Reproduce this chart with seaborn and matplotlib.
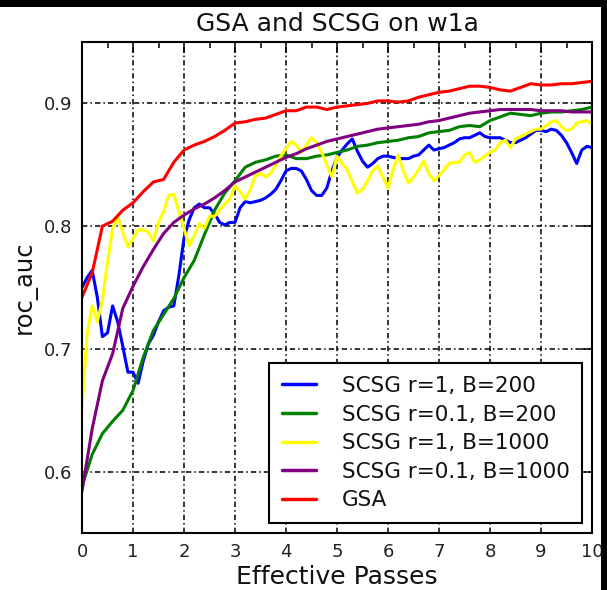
import numpy as np
import pandas as pd
import matplotlib
matplotlib.use("Agg")
import matplotlib.pyplot as plt
import seaborn as sns
from matplotlib.patches import Rectangle
from matplotlib.ticker import MultipleLocator

# effective passes sampled every 0.1 (noisy runs) and every 0.2 (smooth runs)
passes_fine = np.round(np.arange(0, 10.05, 0.1), 1)
passes_coarse = np.round(np.arange(0, 10.05, 0.2), 1)

auc_scsg_r1_b200 = [
    0.750, 0.758, 0.764, 0.742, 0.710, 0.713, 0.735, 0.722, 0.702, 0.681,
    0.681, 0.672, 0.690, 0.704, 0.711, 0.722, 0.731, 0.734, 0.735, 0.760,
    0.790, 0.805, 0.815, 0.818, 0.815, 0.815, 0.810, 0.803, 0.801, 0.803,
    0.803, 0.815, 0.820, 0.819, 0.820, 0.821, 0.823, 0.826, 0.830, 0.837,
    0.845, 0.847, 0.847, 0.845, 0.838, 0.829, 0.825, 0.825, 0.831, 0.845,
    0.856, 0.862, 0.867, 0.871, 0.861, 0.853, 0.848, 0.851, 0.855, 0.857,
    0.857, 0.856, 0.855, 0.855, 0.855, 0.857, 0.858, 0.862, 0.866, 0.862,
    0.863, 0.864, 0.866, 0.868, 0.871, 0.872, 0.872, 0.874, 0.876, 0.873,
    0.872, 0.872, 0.872, 0.870, 0.868, 0.868, 0.870, 0.872, 0.875, 0.878,
    0.878, 0.877, 0.879, 0.878, 0.874, 0.868, 0.860, 0.851, 0.862, 0.865,
    0.864,
]

auc_scsg_r1_b1000 = [
    0.652, 0.712, 0.735, 0.722, 0.740, 0.770, 0.798, 0.808, 0.795, 0.783,
    0.790, 0.797, 0.797, 0.795, 0.788, 0.803, 0.812, 0.825, 0.826, 0.812,
    0.798, 0.784, 0.792, 0.802, 0.798, 0.808, 0.808, 0.813, 0.818, 0.822,
    0.833, 0.828, 0.822, 0.830, 0.841, 0.843, 0.840, 0.843, 0.850, 0.857,
    0.863, 0.869, 0.866, 0.860, 0.866, 0.872, 0.868, 0.860, 0.850, 0.840,
    0.857, 0.851, 0.846, 0.836, 0.827, 0.830, 0.837, 0.845, 0.849, 0.840,
    0.831, 0.846, 0.858, 0.845, 0.835, 0.840, 0.846, 0.853, 0.843, 0.837,
    0.841, 0.846, 0.851, 0.852, 0.852, 0.858, 0.860, 0.852, 0.854, 0.857,
    0.860, 0.862, 0.868, 0.870, 0.864, 0.871, 0.873, 0.875, 0.877, 0.879,
    0.879, 0.882, 0.885, 0.886, 0.881, 0.878, 0.879, 0.884, 0.885, 0.886,
    0.883,
]

auc_scsg_r01_b200 = [
    0.588, 0.614, 0.631, 0.641, 0.650, 0.666, 0.693, 0.715, 0.728, 0.741,
    0.758, 0.772, 0.793, 0.813, 0.827, 0.837, 0.848, 0.852, 0.854, 0.857,
    0.858, 0.855, 0.855, 0.857, 0.858, 0.860, 0.862, 0.865, 0.866, 0.868,
    0.869, 0.870, 0.872, 0.873, 0.876, 0.877, 0.878, 0.881, 0.882, 0.881,
    0.886, 0.889, 0.892, 0.891, 0.890, 0.892, 0.893, 0.893, 0.894, 0.895,
    0.897,
]

auc_scsg_r01_b1000 = [
    0.584, 0.635, 0.674, 0.696, 0.733, 0.751, 0.767, 0.781, 0.794, 0.803,
    0.809, 0.814, 0.818, 0.823, 0.829, 0.836, 0.840, 0.844, 0.848, 0.852,
    0.856, 0.859, 0.863, 0.866, 0.869, 0.871, 0.873, 0.875, 0.877, 0.879,
    0.880, 0.881, 0.882, 0.883, 0.885, 0.886, 0.888, 0.890, 0.892, 0.893,
    0.894, 0.895, 0.895, 0.895, 0.895, 0.894, 0.894, 0.894, 0.893, 0.893,
    0.893,
]

auc_gsa = [
    0.742, 0.762, 0.800, 0.804, 0.813, 0.819, 0.828, 0.836, 0.838, 0.852,
    0.862, 0.866, 0.869, 0.873, 0.878, 0.884, 0.885, 0.887, 0.888, 0.891,
    0.894, 0.894, 0.897, 0.897, 0.895, 0.897, 0.898, 0.899, 0.900, 0.902,
    0.902, 0.901, 0.902, 0.905, 0.907, 0.909, 0.910, 0.912, 0.914, 0.914,
    0.913, 0.911, 0.910, 0.913, 0.916, 0.915, 0.915, 0.916, 0.916, 0.917,
    0.918,
]

method_names = [
    "SCSG r=1, B=200",
    "SCSG r=0.1, B=200",
    "SCSG r=1, B=1000",
    "SCSG r=0.1, B=1000",
    "GSA",
]
method_colors = ["#0000ff", "#008000", "#ffff00", "#800080", "#ff0000"]

runs = [
    (method_names[0], passes_fine, auc_scsg_r1_b200),
    (method_names[1], passes_coarse, auc_scsg_r01_b200),
    (method_names[2], passes_fine, auc_scsg_r1_b1000),
    (method_names[3], passes_coarse, auc_scsg_r01_b1000),
    (method_names[4], passes_coarse, auc_gsa),
]
df = pd.concat(
    [pd.DataFrame({"method": name, "passes": xs, "roc_auc": ys}) for name, xs, ys in runs],
    ignore_index=True,
)

sns.set_style("white")
plt.rcParams["font.family"] = ["DejaVu Sans"]

W, H = 607, 590
fig = plt.figure(figsize=(W / 100, H / 100), dpi=100)
ax = fig.add_axes([82 / W, 57 / H, 510 / W, 491 / H])

sns.lineplot(
    data=df, x="passes", y="roc_auc", hue="method",
    hue_order=method_names, palette=dict(zip(method_names, method_colors)),
    estimator=None, sort=False, linewidth=2.2, ax=ax,
)

ax.set_xlim(0, 10)
ax.set_ylim(0.55, 0.95)
ax.set_xticks(range(0, 11))
ax.set_yticks([0.6, 0.7, 0.8, 0.9])
ax.xaxis.set_minor_locator(MultipleLocator(0.5))
ax.tick_params(which="both", direction="in", top=True, right=True,
               colors="black", labelcolor="#222222")
ax.tick_params(which="major", length=8, width=1.1, labelsize=13, pad=7)
ax.tick_params(which="minor", length=4, width=1.1)
ax.grid(True, which="major", color="black", linestyle=(0, (3.5, 2, 1, 2)),
        linewidth=1.1)
for s in ax.spines.values():
    s.set_color("black")
    s.set_linewidth(1.5)

ax.set_title("GSA and SCSG on w1a", fontsize=18, pad=8, color="#111111")
ax.set_xlabel("Effective Passes", fontsize=18, labelpad=3, color="#111111")
ax.set_ylabel("roc_auc", fontsize=17.5, labelpad=5, color="#111111")

handles, labels = ax.get_legend_handles_labels()
leg = ax.legend(handles, labels, loc="lower right", fontsize=15.5,
                frameon=True, fancybox=False, framealpha=1,
                edgecolor="black", handlelength=1.55, handletextpad=1.2,
                borderpad=0.6, borderaxespad=0.45, labelspacing=0.4)
leg.get_frame().set_linewidth(1.5)
for line in leg.get_lines():
    line.set_linewidth(2.5)
for t in leg.get_texts():
    t.set_color("#111111")

# dark strips along the top and right edges
fig.add_artist(Rectangle((0, 1 - 7 / H), 1, 7 / H, transform=fig.transFigure,
                         facecolor="black", edgecolor="none"))
fig.add_artist(Rectangle((1 - 6 / W, 0), 6 / W, 1, transform=fig.transFigure,
                         facecolor="black", edgecolor="none"))

fig.savefig("out.png", dpi=100, facecolor="white")
